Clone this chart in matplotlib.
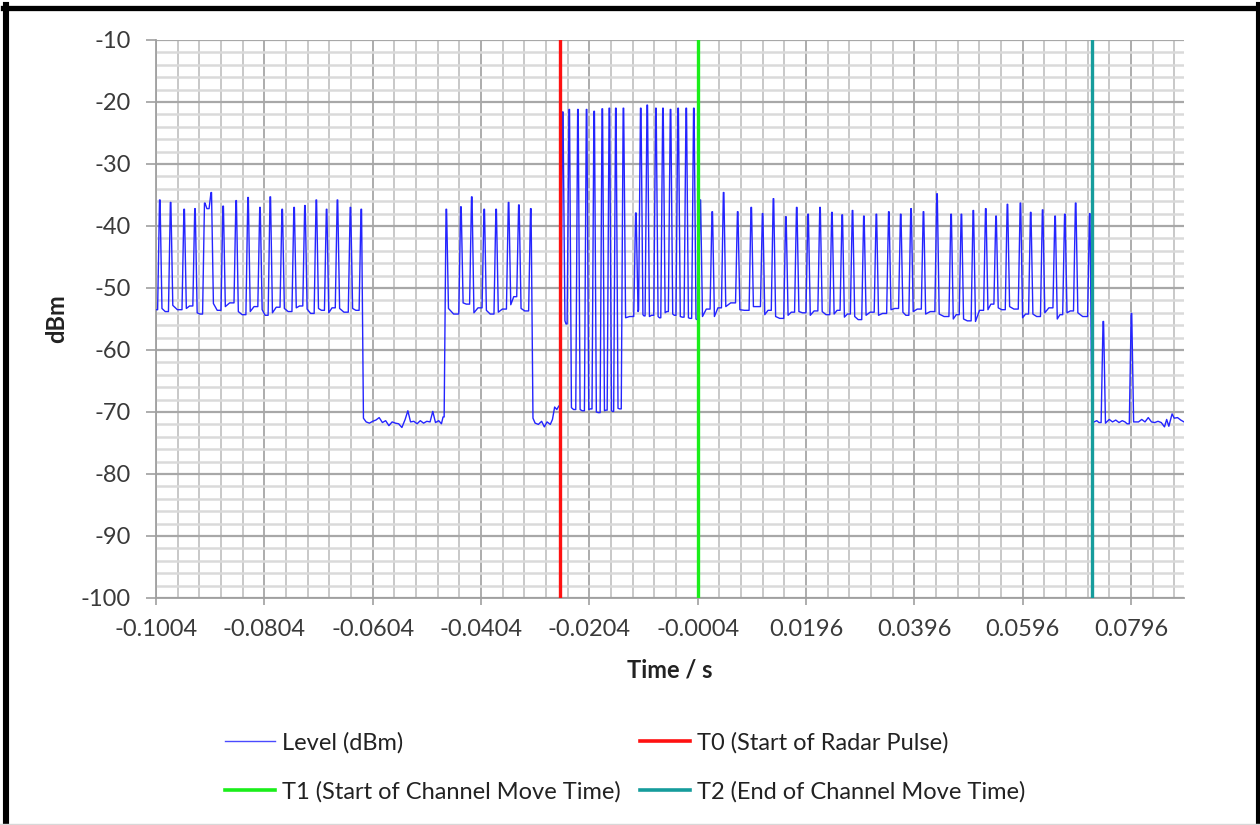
import numpy as np
import matplotlib
matplotlib.use("Agg")
import matplotlib.pyplot as plt
from matplotlib.lines import Line2D
from matplotlib.ticker import FixedLocator, MultipleLocator

plt.rcParams['font.family'] = ['Lato', 'DejaVu Sans']
plt.rcParams['axes.unicode_minus'] = False

# ---- data ----
x_ticks = [-0.1004, -0.0804, -0.0604, -0.0404, -0.0204, -0.0004,
           0.0196, 0.0396, 0.0596, 0.0796]
x_labels = ['-0.1004', '-0.0804', '-0.0604', '-0.0404', '-0.0204', '-0.0004',
            '0.0196', '0.0396', '0.0596', '0.0796']
y_ticks = [-10, -20, -30, -40, -50, -60, -70, -80, -90, -100]

t0 = -0.0259   # start of radar pulse
t1 = -0.0004   # start of channel move time
t2 = 0.0724    # end of channel move time

start_t, start_v = -0.1004, -53.5

# first burst of traffic
a_time = [-0.0997, -0.0977, -0.0952, -0.0932, -0.0914, -0.0902, -0.0880, -0.0856,
          -0.0834, -0.0812, -0.0793, -0.0771, -0.0749, -0.0729, -0.0708, -0.0689,
          -0.0669, -0.0645, -0.0625]
a_peak = [-35.8, -36.2, -37.3, -37.2, -36.3, -34.6, -36.8, -35.9, -35.4, -37.0,
          -35.3, -37.3, -37.0, -36.7, -35.8, -37.3, -35.8, -37.0, -37.3]
a_floor = [-53.3, -52.8, -53.3, -54.0, -37.2, -52.5, -53.0, -53.8, -53.8, -53.5,
           -54.0, -53.3, -53.2, -53.4, -53.3, -54.0, -53.3, -53.3, -71.0]
a_mid = [-53.8, -53.5, -52.9, -54.2, -37.2, -53.6, -52.4, -54.3, -53.0, -54.4,
         -53.1, -53.8, -52.9, -54.1, -53.6, -53.2, -53.9, -53.6, -71.2]

# quiet gap
low1_time = [-0.0616, -0.0610, -0.0604, -0.0598, -0.0592, -0.0586, -0.0580, -0.0574,
             -0.0568, -0.0562, -0.0556, -0.0550, -0.0544, -0.0539, -0.0534, -0.0528,
             -0.0522, -0.0516, -0.0510, -0.0504, -0.0498, -0.0493, -0.0488, -0.0482,
             -0.0477, -0.0474]
low1_level = [-71.6, -71.8, -71.5, -71.3, -70.9, -71.7, -71.4, -72.2,
              -71.6, -71.8, -71.9, -72.5, -71.2, -69.8, -71.6, -71.5,
              -71.9, -71.4, -71.8, -71.5, -71.6, -69.9, -71.7, -71.4,
              -71.9, -70.8]

# second burst
b_time = [-0.0468, -0.0441, -0.0421, -0.0398, -0.0376, -0.0353, -0.0334, -0.0312]
b_peak = [-37.3, -36.9, -35.3, -37.3, -37.3, -36.2, -36.6, -37.2]
b_floor = [-53.3, -52.4, -54.0, -53.6, -53.9, -52.7, -53.3, -71.0]
b_mid = [-54.2, -52.6, -53.2, -54.2, -53.4, -51.4, -53.7, -71.4]

low2_time = [-0.0304, -0.0298, -0.0292, -0.0287, -0.0282, -0.0276, -0.0272,
             -0.0268, -0.0264, -0.0260]
low2_level = [-71.8, -72.0, -71.5, -72.4, -71.6, -72.0, -71.2, -69.2, -69.6, -69.0]

# strong pulses between T0 and T1
c_time = [-0.0253, -0.0241, -0.0225, -0.0209, -0.0195, -0.0180, -0.0167, -0.0155,
          -0.0141, -0.0118, -0.0109, -0.0097, -0.0081, -0.0068, -0.0054, -0.0040,
          -0.0025, -0.0011]
c_peak = [-21.6, -21.2, -21.2, -21.2, -21.5, -21.1, -21.0, -21.0,
          -21.0, -37.9, -21.0, -20.5, -21.0, -21.0, -21.2, -21.0,
          -21.0, -21.0]
c_floor = [-55.3, -69.3, -69.6, -69.6, -70.0, -69.8, -69.8, -69.4,
           -54.8, -53.8, -54.3, -54.6, -54.6, -54.0, -54.2, -54.6,
           -54.8, -55.0]
c_mid = [-55.8, -69.6, -69.8, -69.5, -70.1, -69.7, -69.9, -69.5,
         -54.6, -53.6, -54.5, -54.4, -54.8, -53.8, -54.4, -54.7,
         -54.9, -55.1]

# traffic during channel move time
d_time = [0.0001, 0.0023, 0.0044, 0.0070, 0.0095, 0.0116, 0.0136, 0.0159, 0.0179,
          0.0200, 0.0222, 0.0244, 0.0263, 0.0282, 0.0303, 0.0326, 0.0349, 0.0371,
          0.0390, 0.0413, 0.0438, 0.0464, 0.0483, 0.0505, 0.0528, 0.0547, 0.0568,
          0.0592, 0.0611, 0.0633, 0.0656, 0.0674, 0.0694, 0.0720]
d_peak = [-35.8, -37.7, -34.6, -37.7, -37.0, -38.0, -35.6, -38.5, -37.0,
          -38.1, -37.0, -37.8, -38.2, -37.5, -38.4, -38.1, -37.7, -38.1,
          -37.2, -37.7, -34.8, -38.1, -38.1, -37.5, -37.2, -38.4, -36.5,
          -36.3, -37.8, -37.4, -38.4, -38.1, -36.3, -38.0]
d_floor = [-54.6, -54.6, -53.0, -53.5, -53.0, -54.3, -54.6, -54.4, -53.8,
           -54.4, -53.8, -54.2, -54.7, -54.6, -54.4, -54.4, -53.5, -53.9,
           -53.8, -54.2, -54.2, -55.0, -55.0, -55.4, -53.5, -53.2, -53.0,
           -54.8, -54.2, -54.0, -55.0, -54.0, -54.0, -71.3]
d_mid = [-53.4, -53.2, -52.4, -53.6, -53.0, -53.6, -54.9, -53.9, -54.0,
         -53.7, -54.3, -53.6, -54.2, -55.1, -53.9, -54.1, -53.3, -54.4,
         -53.4, -53.8, -54.6, -54.3, -55.3, -53.6, -52.6, -53.5, -53.4,
         -54.2, -54.6, -53.2, -54.3, -53.7, -54.6, -71.5]

# after T2
low3_time = [0.0728, 0.0733, 0.0737]
low3_level = [-71.6, -71.4, -71.7]
e1_time, e1_peak, e1_floor, e1_mid = [0.0745], [-55.4], [-71.8], [-71.5]
low4_time = [0.0756, 0.0762, 0.0768, 0.0774, 0.0780, 0.0785, 0.0789]
low4_level = [-71.2, -71.6, -71.3, -71.7, -71.4, -71.6, -71.9]
e2_time, e2_peak, e2_floor, e2_mid = [0.0797], [-54.1], [-71.6], [-71.7]
low5_time = [0.0810, 0.0816, 0.0822, 0.0828, 0.0834, 0.0840, 0.0846,
             0.0852, 0.0858, 0.0862, 0.0866, 0.0872, 0.0876, 0.0882, 0.0888, 0.0894]
low5_level = [-71.6, -71.2, -71.6, -70.9, -71.6, -71.7, -71.5,
              -71.7, -72.4, -71.2, -72.3, -70.3, -71.0, -70.9, -71.3, -71.6]


def add_pulses(ts, vs, times, peaks, floors, mids):
    for i, (t, p, f, m) in enumerate(zip(times, peaks, floors, mids)):
        ts += [t - 0.0004, t - 0.00005, t + 0.00005, t + 0.0004]
        vs += [vs[-1], p, p, f]
        # a point halfway to the next pulse
        if i + 1 < len(times):
            ts.append((t + times[i + 1]) / 2)
            vs.append(m)


ts = [start_t]
vs = [start_v]
add_pulses(ts, vs, a_time, a_peak, a_floor, a_mid)
ts += low1_time; vs += low1_level
add_pulses(ts, vs, b_time, b_peak, b_floor, b_mid)
ts += low2_time; vs += low2_level
add_pulses(ts, vs, c_time, c_peak, c_floor, c_mid)
ts.append((c_time[-1] + d_time[0]) / 2); vs.append(c_mid[-1])
add_pulses(ts, vs, d_time, d_peak, d_floor, d_mid)
ts += low3_time; vs += low3_level
add_pulses(ts, vs, e1_time, e1_peak, e1_floor, e1_mid)
ts += low4_time; vs += low4_level
add_pulses(ts, vs, e2_time, e2_peak, e2_floor, e2_mid)
ts += low5_time; vs += low5_level

# ---- figure ----
W, H = 1260, 825
fig = plt.figure(figsize=(W / 100, H / 100), dpi=100)
ax = fig.add_axes([156 / W, 1 - 598 / H, (1184 - 156) / W, (598 - 40) / H])

ax.plot(ts, vs, color='#2424ff', lw=1.0, label='Level (dBm)', zorder=3)
ax.axvline(t0, color='#ff1010', lw=2.4, zorder=4)
ax.axvline(t1, color='#1aee1a', lw=2.4, zorder=4)
ax.axvline(t2, color='#169c9c', lw=2.4, zorder=4)

ax.set_xlim(-0.1004, 0.0894)
ax.set_ylim(-100, -10)

ax.xaxis.set_major_locator(FixedLocator(x_ticks))
ax.set_xticklabels(x_labels)
ax.xaxis.set_minor_locator(FixedLocator(np.arange(-0.1004, 0.0895, 0.004)))
ax.set_yticks(y_ticks)
ax.yaxis.set_minor_locator(MultipleLocator(2))

ax.grid(which='major', axis='x', color='#a6a6a6', lw=1.3, zorder=0)
ax.grid(which='minor', axis='x', color='#c4c4c4', lw=1.3, zorder=0)
ax.grid(which='major', axis='y', color='#a8a8a8', lw=1.6, zorder=0)
ax.grid(which='minor', axis='y', color='#dadada', lw=1.8, zorder=0)
ax.set_axisbelow(True)

for s in ['top', 'right']:
    ax.spines[s].set_visible(False)
for s in ['left', 'bottom']:
    ax.spines[s].set_color('#a0a0a0')
    ax.spines[s].set_linewidth(1.3)

ax.tick_params(axis='y', which='major', length=7, width=1.2, color='#a0a0a0',
               pad=11, labelsize=17, labelcolor='#3a3a3a')
ax.tick_params(axis='x', which='major', length=5, width=1.2, color='#a0a0a0',
               pad=10, labelsize=17, labelcolor='#3a3a3a')
ax.tick_params(which='minor', length=0)

fig.text(670 / W, 1 - 670 / H, 'Time / s', ha='center', va='center',
         fontsize=17, fontweight='bold', color='#222222')
fig.text(57 / W, 1 - 319 / H, 'dBm', ha='center', va='center', rotation=90,
         fontsize=17, fontweight='bold', color='#222222')

h_level = Line2D([], [], color='#4a4aff', lw=1.0)
h0 = Line2D([], [], color='#ff1010', lw=2.6)
h1 = Line2D([], [], color='#1aee1a', lw=2.6)
h2 = Line2D([], [], color='#169c9c', lw=2.6)
fig.legend([h_level, h1, h0, h2],
           ['Level (dBm)', 'T1 (Start of Channel Move Time)',
            'T0 (Start of Radar Pulse)', 'T2 (End of Channel Move Time)'],
           ncol=2, loc='upper left', bbox_to_anchor=(225 / W, 1 - 732 / H),
           frameon=False, fontsize=17, handlelength=2.1, handletextpad=0.3,
           columnspacing=0.85, labelspacing=1.15, borderpad=0, borderaxespad=0,
           labelcolor='#222222')

# outer frame like the pasted chart
fig.add_artist(Line2D([6 / W, 6 / W], [0, 1 - 5 / H], transform=fig.transFigure,
                      color='black', lw=4.4))
fig.add_artist(Line2D([3 / W, 1], [1 - 7.5 / H, 1 - 7.5 / H], transform=fig.transFigure,
                      color='black', lw=3.8))
fig.add_artist(Line2D([1259 / W, 1259 / W], [0, 1 - 5 / H], transform=fig.transFigure,
                      color='black', lw=4.4))
fig.add_artist(Line2D([0, 1], [0.6 / H, 0.6 / H], transform=fig.transFigure,
                      color='#d8d8d8', lw=1.0))

fig.savefig('out.png', dpi=100, facecolor='white')
